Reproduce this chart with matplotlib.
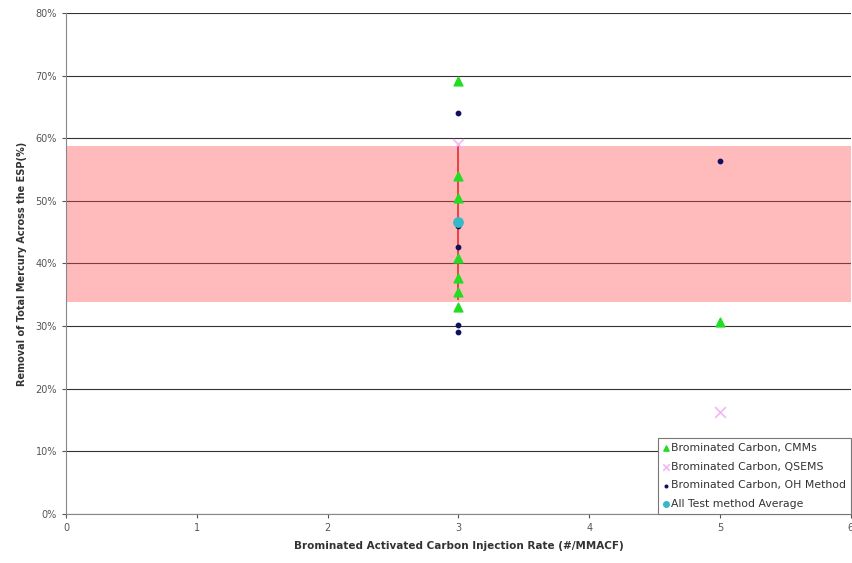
import matplotlib.pyplot as plt
from matplotlib.ticker import PercentFormatter

# data (removal %, injection rate lb/MMACF)
cmm_x = [3, 3, 3, 3, 3, 3, 3, 5]
cmm_y = [69.2, 54.0, 50.5, 40.8, 37.7, 35.4, 33.0, 30.6]
qsems_x = [3, 5]
qsems_y = [59.0, 16.3]
oh_x = [3, 3, 3, 3, 3, 5]
oh_y = [64.0, 46.0, 42.6, 30.1, 29.1, 56.3]
avg_x = [3]
avg_y = [46.7]
avg_err = [12.5]
band_low, band_high = 33.8, 58.8

fig = plt.figure(figsize=(8.53, 5.63), dpi=100)
ax = fig.add_axes([0.0774, 0.087, 0.920, 0.890])

ax.axhspan(band_low, band_high, color='#ff4d4d', alpha=0.38, lw=0, zorder=2)
ax.errorbar(avg_x, avg_y, yerr=avg_err, fmt='none', ecolor='#e03030', elinewidth=1.2, capsize=0, zorder=3)

ax.scatter(cmm_x, cmm_y, marker='^', s=40, color='#22dd22', zorder=4, label='Brominated Carbon, CMMs')
ax.scatter(qsems_x, qsems_y, marker='x', s=60, color='#f4b6f4', linewidths=1.2, zorder=4, label='Brominated Carbon, QSEMS')
ax.scatter(oh_x, oh_y, marker='o', s=10, color='#101060', zorder=5, label='Brominated Carbon, OH Method')
ax.scatter(avg_x, avg_y, marker='o', s=45, color='#35b8c8', zorder=5, label='All Test method Average')

ax.set_xlim(0, 6)
ax.set_ylim(0, 80)
ax.set_xticks(range(0, 7))
ax.set_yticks(range(0, 81, 10))
ax.yaxis.set_major_formatter(PercentFormatter(decimals=0))
ax.grid(axis='y', color='#333333', lw=0.8, zorder=1)
ax.set_axisbelow(True)

for s in ['top', 'right']:
    ax.spines[s].set_visible(False)
for s in ['left', 'bottom']:
    ax.spines[s].set_color('#888888')
ax.tick_params(labelsize=7, colors='#555555', length=3)

ax.set_xlabel('Brominated Activated Carbon Injection Rate (#/MMACF)', fontsize=7.5, fontweight='bold', color='#333333', labelpad=6)
ax.set_ylabel('Removal of Total Mercury Across the ESP(%)', fontsize=7, fontweight='bold', color='#333333', labelpad=6)

leg = ax.legend(loc='lower right', fontsize=7.8, handletextpad=0.15, borderpad=0.45, labelspacing=0.8,
                handlelength=0.6, markerscale=0.6, fancybox=False, framealpha=1, edgecolor='#777777',
                borderaxespad=0.0)
leg.get_frame().set_linewidth(0.8)
for t in leg.get_texts():
    t.set_color('#333333')

plt.savefig('out.png', dpi=100)
